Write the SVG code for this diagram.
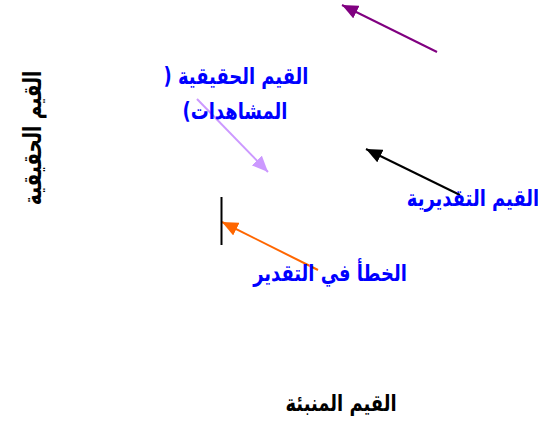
<svg xmlns="http://www.w3.org/2000/svg" width="538" height="428" viewBox="0 0 538 428">
<style>
.lbl{font-family:"DejaVu Sans","Liberation Sans",sans-serif;font-weight:bold;font-size:23px;text-anchor:middle;direction:rtl}
.blue{fill:#0000FF}
.blk{fill:#000000}
.ln{stroke-width:2;fill:none}
</style>
<defs>
<marker id="hPurple" markerUnits="userSpaceOnUse" markerWidth="16" markerHeight="14" refX="16" refY="7" orient="auto"><path d="M0,0 L16,7 L0,14 Z" fill="#800080"/></marker>
<marker id="hBlack" markerUnits="userSpaceOnUse" markerWidth="16" markerHeight="14" refX="16" refY="7" orient="auto"><path d="M0,0 L16,7 L0,14 Z" fill="#000000"/></marker>
<marker id="hOrange" markerUnits="userSpaceOnUse" markerWidth="16" markerHeight="14" refX="16" refY="7" orient="auto"><path d="M0,0 L16,7 L0,14 Z" fill="#FF6600"/></marker>
<marker id="hLav" markerUnits="userSpaceOnUse" markerWidth="16" markerHeight="14" refX="16" refY="7" orient="auto"><path d="M0,0 L16,7 L0,14 Z" fill="#CC99FF"/></marker>
</defs>
<rect width="538" height="428" fill="#FFFFFF"/>
<g id="connectors">
<line class="ln" x1="437" y1="52" x2="342" y2="5" stroke="#800080" marker-end="url(#hPurple)"/>
<line class="ln" x1="197" y1="99" x2="268" y2="172" stroke="#CC99FF" marker-end="url(#hLav)"/>
<line class="ln" x1="460" y1="195" x2="366" y2="149" stroke="#000000" marker-end="url(#hBlack)"/>
<line class="ln" x1="318" y1="270" x2="222" y2="222" stroke="#FF6600" marker-end="url(#hOrange)"/>
<line class="ln" x1="221.5" y1="197" x2="221.5" y2="245" stroke="#000000"/>
</g>
<g id="axis-y">
<text class="lbl blk" transform="translate(41,138) rotate(-90) scale(0.74,1)" style="font-size:25px">القيم الحقيقية</text>
</g>
<g id="label-actual">
<text class="lbl blue" transform="translate(236,84) scale(0.78,1)">القيم الحقيقية (</text>
<text class="lbl blue" transform="translate(235,119) scale(0.78,1)">المشاهدات)</text>
</g>
<g id="label-estimated">
<text class="lbl blue" transform="translate(473,206) scale(0.78,1)">القيم التقديرية</text>
</g>
<g id="label-error">
<text class="lbl blue" transform="translate(330,281) scale(0.78,1)">الخطأ في التقدير</text>
</g>
<g id="axis-x">
<text class="lbl blk" transform="translate(341,411) scale(0.78,1)">القيم المنبئة</text>
</g>
</svg>
